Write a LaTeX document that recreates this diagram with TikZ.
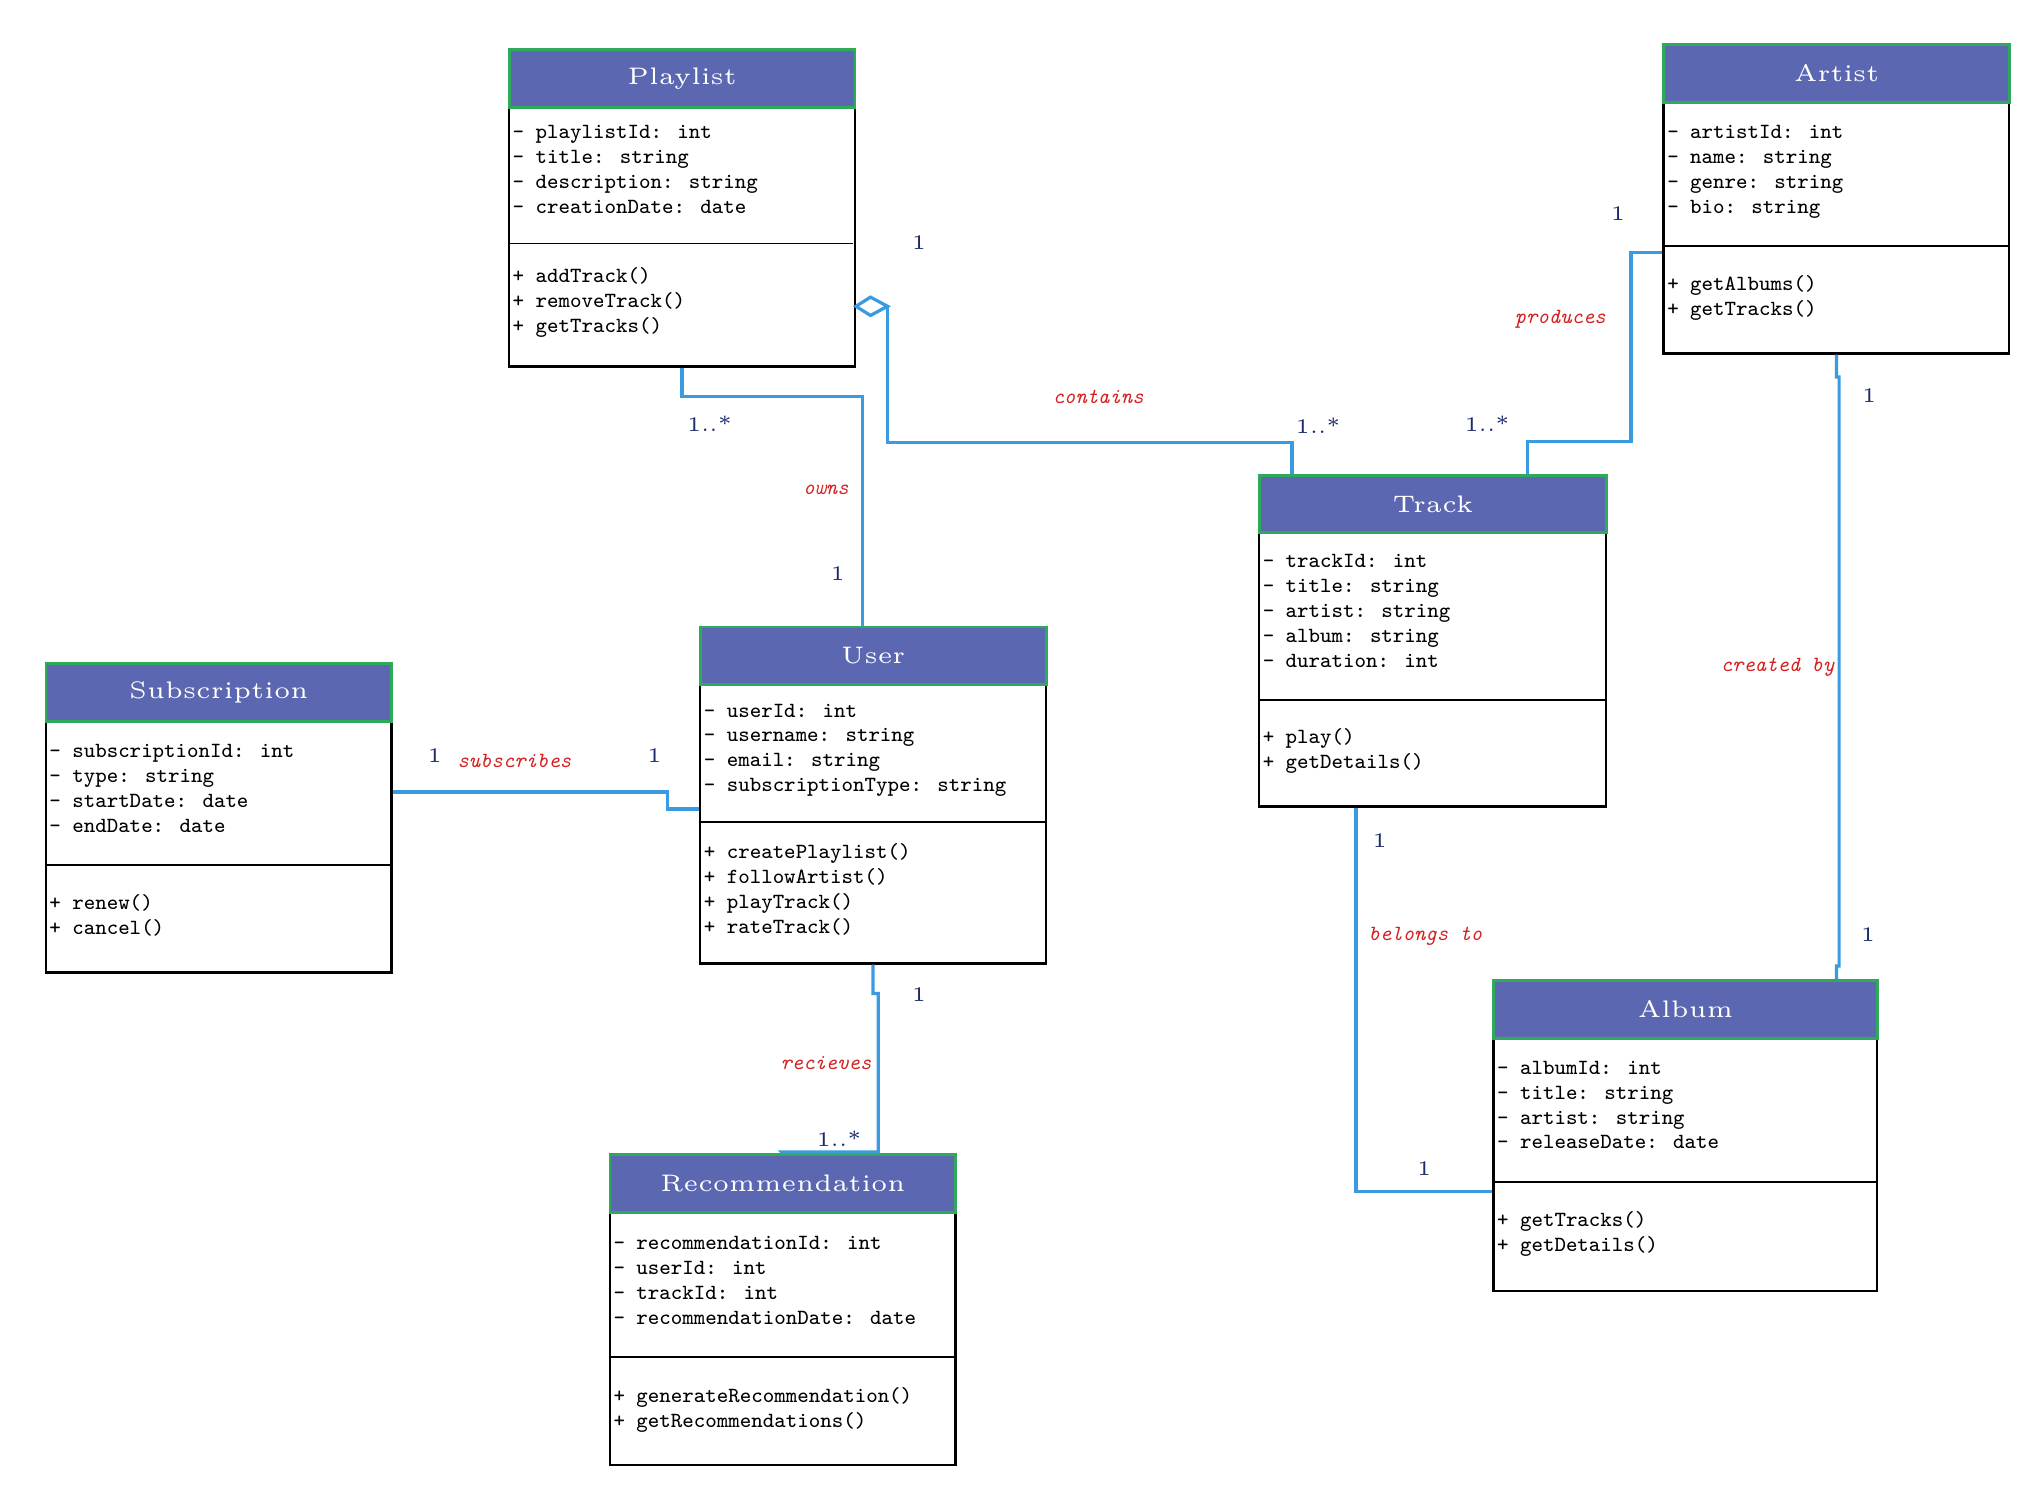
\documentclass[tikz,border=0pt]{standalone}
\usepackage{tikz}
\usetikzlibrary{positioning}

\definecolor{headblue}{HTML}{5B67B0}
\definecolor{headgreen}{HTML}{2EAA5A}
\definecolor{linkblue}{HTML}{3A9BE0}
\definecolor{rolered}{HTML}{D42020}
\definecolor{multnavy}{HTML}{1A2A6A}

\tikzset{
  box/.style={draw, line width=0.5pt, anchor=north west, inner sep=0pt, minimum width=2.64cm},
  head/.style={draw=headgreen, fill=headblue, line width=0.6pt, anchor=north west, inner sep=0pt,
    minimum width=2.64cm, minimum height=0.44cm, text=white, font=\fontsize{5.2}{6}\selectfont},
  members/.style={anchor=north west, inner sep=0pt, align=left, font=\ttfamily\fontsize{4.7}{5.4}\selectfont},
  assoc/.style={draw=linkblue, line width=0.7pt},
  role/.style={text=rolered, font=\ttfamily\itshape\fontsize{4.7}{5.4}\selectfont},
  mult/.style={text=multnavy, font=\fontsize{4.5}{5}\selectfont}
}

\begin{document}
\begin{tikzpicture}[x=0.01cm, y=-0.01cm]
  \useasboundingbox (0,0) rectangle (1560,1146);

  % Playlist
  \node[box, minimum height=2.42cm] (playlist) at (388,37) {};
  \node[head] (playlistHead) at (388,37) {Playlist};
  \draw (388,186) -- (652,186);
  \node[members] (playlistAttr) at (391,95) {- playlistId: int\\- title: string\\- description: string\\- creationDate: date};
  \node[members] (playlistOps) at (391,204) {+ addTrack()\\+ removeTrack()\\+ getTracks()};

  % Artist
  \node[box, minimum height=2.36cm] (artist) at (1270,33) {};
  \node[head] (artistHead) at (1270,33) {Artist};
  \draw (1270,188) -- (1534,188);
  \node[members] (artistAttr) at (1273,95) {- artistId: int\\- name: string\\- genre: string\\- bio: string};
  \node[members] (artistOps) at (1273,210) {+ getAlbums()\\+ getTracks()};

  % Track
  \node[box, minimum width=2.65cm, minimum height=2.53cm] (track) at (961,362) {};
  \node[head, minimum width=2.65cm] (trackHead) at (961,362) {Track};
  \draw (961,535) -- (1226,535);
  \node[members] (trackAttr) at (964,423) {- trackId: int\\- title: string\\- artist: string\\- album: string\\- duration: int};
  \node[members] (trackOps) at (964,556) {+ play()\\+ getDetails()};

  % User
  \node[box, minimum height=2.57cm] (user) at (534,478) {};
  \node[head] (userHead) at (534,478) {User};
  \draw (534,628) -- (798,628);
  \node[members] (userAttr) at (537,537) {- userId: int\\- username: string\\- email: string\\- subscriptionType: string};
  \node[members] (userOps) at (537,644) {+ createPlaylist()\\+ followArtist()\\+ playTrack()\\+ rateTrack()};

  % Subscription
  \node[box, minimum height=2.36cm] (subscription) at (34,506) {};
  \node[head] (subscriptionHead) at (34,506) {Subscription};
  \draw (34,661) -- (298,661);
  \node[members] (subscriptionAttr) at (37,568) {- subscriptionId: int\\- type: string\\- startDate: date\\- endDate: date};
  \node[members] (subscriptionOps) at (37,683) {+ renew()\\+ cancel()};

  % Album
  \node[box, minimum width=2.93cm, minimum height=2.37cm] (album) at (1140,748) {};
  \node[head, minimum width=2.93cm] (albumHead) at (1140,748) {Album};
  \draw (1140,903) -- (1433,903);
  \node[members] (albumAttr) at (1143,810) {- albumId: int\\- title: string\\- artist: string\\- releaseDate: date};
  \node[members] (albumOps) at (1143,925) {+ getTracks()\\+ getDetails()};

  % Recommendation
  \node[box, minimum height=2.37cm] (recommendation) at (465,881) {};
  \node[head] (recommendationHead) at (465,881) {Recommendation};
  \draw (465,1037) -- (729,1037);
  \node[members] (recommendationAttr) at (468,944) {- recommendationId: int\\- userId: int\\- trackId: int\\- recommendationDate: date};
  \node[members] (recommendationOps) at (468,1059) {+ generateRecommendation()\\+ getRecommendations()};

  % associations
  \draw[assoc] (playlist.south) |- (659,303) -- (user.north -| 659,0);
  \node[mult] at (542,324) {1..*};
  \node[role] at (631,374) {owns};
  \node[mult] at (640,438) {1};

  \draw[assoc] (playlist.east |- 0,234) -- (665,227) -- (678,234) -- (665,241) -- cycle;
  \draw[assoc] (678,234) |- (987,338) -- (track.north -| 987,0);
  \node[mult] at (702,185) {1};
  \node[role] at (839,303) {contains};
  \node[mult] at (1007,325) {1..*};

  \draw[assoc] (artist.west |- 0,193) -| (1246,337) -| (track.north -| 1167,0);
  \node[mult] at (1236,163) {1};
  \node[role] at (1192,244) {produces};
  \node[mult] at (1136,324) {1..*};

  \draw[assoc] (artist.south) -- (1403,288) -- (1405,288) -- (1405,738) -- (1403,738) -- (album.north -| 1403,0);
  \node[mult] at (1428,302) {1};
  \node[role] at (1358,510) {created by};
  \node[mult] at (1427,714) {1};

  \draw[assoc] (track.south -| 1036,0) |- (album.west |- 0,910);
  \node[mult] at (1054,642) {1};
  \node[role] at (1089,715) {belongs to};
  \node[mult] at (1088,893) {1};

  \draw[assoc] (subscription.east |- 0,605) -| (510,618) -- (user.west |- 0,618);
  \node[mult] at (332,577) {1};
  \node[role] at (393,581) {subscribes};
  \node[mult] at (500,577) {1};

  \draw[assoc] (user.south) |- (671,759) |- (597,880) -- (recommendation.north);
  \node[mult] at (702,760) {1};
  \node[role] at (631,812) {recieves};
  \node[mult] at (641,870) {1..*};
\end{tikzpicture}
\end{document}
